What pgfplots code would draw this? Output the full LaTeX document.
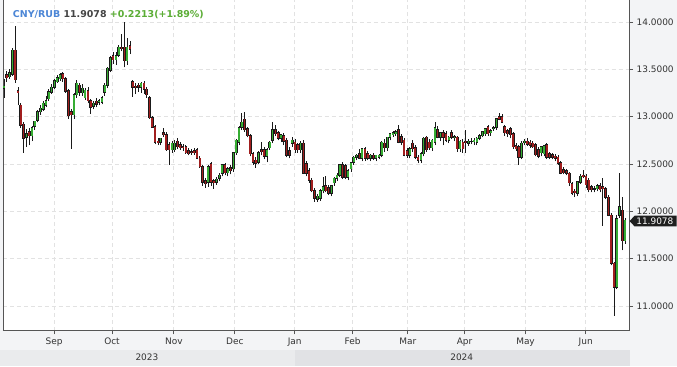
\documentclass[border=0pt]{standalone}
\usepackage{fontspec}
\setmainfont{DejaVu Sans}
\usepackage{pgfplots}
\usepackage{pgfplotstable}
\pgfplotsset{compat=1.18}
\definecolor{canvas}{HTML}{F3F4F6}
\definecolor{band23}{HTML}{EAEBED}
\definecolor{band24}{HTML}{E1E2E5}
\definecolor{gridc}{HTML}{E2E2E2}
\definecolor{axisc}{HTML}{555555}
\definecolor{txt}{HTML}{333333}
\definecolor{upc}{HTML}{36AD33}
\definecolor{dnc}{HTML}{A11E1E}
\definecolor{edge}{HTML}{1A1A1A}
\definecolor{ttlblue}{HTML}{4C86D6}
\definecolor{ttlgreen}{HTML}{5BAD35}
\definecolor{ttlgray}{HTML}{444444}

\pgfplotstableread{
i o h l c
0 13.30 13.40 13.20 13.32
2 13.42 13.50 13.40 13.46
3 13.45 13.72 13.43 13.70
8 12.78 12.87 12.68 12.82
10 12.80 12.90 12.74 12.88
11 12.90 12.95 12.86 12.95
12 12.96 13.07 12.94 13.05
13 13.05 13.12 13.02 13.09
14 13.08 13.16 13.06 13.14
15 13.12 13.22 13.10 13.17
16 13.19 13.29 13.17 13.26
17 13.26 13.34 13.24 13.31
18 13.31 13.40 13.29 13.38
19 13.37 13.44 13.36 13.41
20 13.40 13.46 13.38 13.44
25 13.02 13.25 12.98 13.23
26 13.23 13.39 13.20 13.35
28 13.25 13.34 13.22 13.30
29 13.20 13.30 13.18 13.28
32 13.11 13.17 13.08 13.14
34 13.15 13.19 13.12 13.17
35 13.15 13.22 13.13 13.20
36 13.26 13.35 13.22 13.33
37 13.33 13.52 13.30 13.51
38 13.49 13.64 13.47 13.62
40 13.60 13.68 13.55 13.64
41 13.65 13.76 13.63 13.73
44 13.59 13.83 13.55 13.73
49 13.31 13.37 13.25 13.35
56 12.73 12.77 12.70 12.77
60 12.65 12.74 12.62 12.72
61 12.65 12.75 12.63 12.72
73 12.31 12.49 12.26 12.47
76 12.31 12.36 12.28 12.34
77 12.35 12.40 12.32 12.38
78 12.40 12.50 12.37 12.49
80 12.41 12.47 12.37 12.45
82 12.45 12.63 12.42 12.62
83 12.62 12.76 12.60 12.75
84 12.73 12.90 12.70 12.88
85 12.89 13.04 12.86 12.94
91 12.52 12.64 12.50 12.62
94 12.58 12.67 12.52 12.65
95 12.67 12.74 12.65 12.73
96 12.75 12.94 12.72 12.86
99 12.77 12.82 12.73 12.81
103 12.72 12.78 12.68 12.75
106 12.65 12.74 12.62 12.72
112 12.13 12.18 12.10 12.16
113 12.14 12.24 12.11 12.22
114 12.22 12.36 12.19 12.26
117 12.19 12.28 12.16 12.27
118 12.30 12.36 12.27 12.35
119 12.35 12.40 12.32 12.38
120 12.38 12.50 12.36 12.49
123 12.36 12.45 12.33 12.43
124 12.45 12.52 12.42 12.51
125 12.52 12.58 12.49 12.57
126 12.57 12.61 12.54 12.59
128 12.56 12.67 12.53 12.66
131 12.56 12.61 12.53 12.59
133 12.56 12.60 12.53 12.59
134 12.57 12.61 12.55 12.59
135 12.59 12.74 12.57 12.73
137 12.67 12.79 12.64 12.78
138 12.78 12.83 12.75 12.82
139 12.81 12.85 12.79 12.83
140 12.82 12.86 12.80 12.84
145 12.59 12.68 12.56 12.66
149 12.54 12.63 12.51 12.61
150 12.61 12.78 12.58 12.77
153 12.67 12.76 12.64 12.75
154 12.73 12.94 12.70 12.88
156 12.78 12.84 12.74 12.83
159 12.75 12.80 12.72 12.78
161 12.78 12.81 12.74 12.79
163 12.66 12.75 12.63 12.74
166 12.72 12.76 12.69 12.74
167 12.74 12.77 12.71 12.74
168 12.74 12.77 12.70 12.75
169 12.73 12.79 12.70 12.77
170 12.77 12.82 12.75 12.80
171 12.80 12.85 12.78 12.84
172 12.82 12.88 12.80 12.87
174 12.83 12.87 12.80 12.85
175 12.87 12.90 12.85 12.88
176 12.89 12.99 12.86 12.98
185 12.57 12.74 12.55 12.72
186 12.73 12.76 12.70 12.74
192 12.62 12.69 12.58 12.68
193 12.61 12.70 12.58 12.69
205 12.19 12.32 12.16 12.31
206 12.31 12.39 12.29 12.37
211 12.24 12.27 12.20 12.24
212 12.24 12.29 12.21 12.27
219 11.20 11.96 11.18 11.92
220 11.96 12.40 11.93 12.05
222 11.69 11.93 11.66 11.9078
}\updata

\pgfplotstableread{
i o h l c
1 13.44 13.48 13.37 13.41
4 13.70 13.96 13.36 13.39
5 13.27 13.31 13.12 13.26
6 13.12 13.14 12.88 12.91
7 12.92 12.94 12.62 12.77
9 12.84 12.88 12.70 12.80
21 13.45 13.47 13.37 13.40
22 13.40 13.42 13.25 13.27
23 13.27 13.29 12.98 13.01
24 13.05 13.08 12.66 13.02
27 13.33 13.36 13.22 13.26
30 13.27 13.31 13.14 13.17
31 13.17 13.19 13.03 13.10
33 13.16 13.20 13.10 13.13
39 13.64 13.68 13.56 13.60
42 13.73 13.87 13.69 13.72
43 13.73 14.00 13.52 13.59
45 13.75 13.80 13.66 13.71
46 13.37 13.39 13.21 13.31
47 13.32 13.36 13.24 13.31
48 13.33 13.36 13.26 13.31
50 13.35 13.38 13.24 13.29
51 13.29 13.31 13.20 13.23
52 13.20 13.22 12.98 12.99
53 12.99 13.01 12.88 12.89
54 12.89 12.91 12.71 12.73
55 12.74 12.77 12.70 12.73
57 12.83 12.88 12.79 12.81
58 12.81 12.84 12.64 12.65
59 12.70 12.73 12.49 12.65
62 12.74 12.77 12.66 12.68
63 12.70 12.73 12.65 12.67
64 12.68 12.71 12.64 12.67
65 12.68 12.70 12.61 12.62
66 12.64 12.67 12.59 12.61
67 12.63 12.66 12.60 12.62
68 12.64 12.67 12.60 12.62
69 12.65 12.67 12.55 12.56
70 12.56 12.58 12.46 12.47
71 12.47 12.49 12.27 12.31
72 12.32 12.35 12.25 12.29
74 12.50 12.52 12.27 12.31
75 12.32 12.34 12.24 12.30
79 12.49 12.51 12.38 12.41
81 12.46 12.49 12.39 12.43
86 12.97 13.05 12.84 12.86
87 12.87 12.89 12.78 12.80
88 12.80 12.82 12.58 12.61
89 12.61 12.63 12.49 12.52
90 12.54 12.57 12.46 12.51
92 12.65 12.73 12.59 12.63
93 12.65 12.68 12.55 12.58
97 12.86 12.91 12.80 12.82
98 12.83 12.85 12.75 12.77
100 12.80 12.83 12.70 12.74
101 12.75 12.77 12.57 12.59
102 12.64 12.68 12.56 12.59
104 12.73 12.76 12.62 12.65
105 12.70 12.72 12.62 12.65
107 12.72 12.75 12.40 12.40
108 12.50 12.53 12.37 12.40
109 12.43 12.46 12.30 12.33
110 12.33 12.35 12.20 12.22
111 12.22 12.25 12.10 12.14
115 12.27 12.37 12.20 12.22
116 12.25 12.28 12.17 12.19
121 12.49 12.52 12.34 12.36
122 12.48 12.50 12.34 12.36
127 12.61 12.66 12.55 12.56
129 12.66 12.68 12.53 12.56
130 12.61 12.64 12.54 12.56
132 12.59 12.62 12.54 12.56
136 12.72 12.76 12.63 12.67
141 12.86 12.91 12.72 12.73
142 12.79 12.82 12.70 12.73
143 12.75 12.77 12.58 12.59
144 12.64 12.67 12.56 12.59
146 12.72 12.75 12.63 12.66
147 12.67 12.70 12.55 12.57
148 12.57 12.60 12.51 12.54
151 12.78 12.80 12.63 12.65
152 12.73 12.76 12.65 12.67
155 12.86 12.90 12.77 12.78
157 12.83 12.86 12.70 12.78
158 12.82 12.85 12.73 12.75
160 12.83 12.86 12.76 12.78
162 12.78 12.80 12.63 12.66
164 12.73 12.76 12.62 12.66
165 12.74 12.86 12.62 12.73
173 12.89 12.91 12.80 12.82
177 13.00 13.04 12.96 12.97
178 13.00 13.03 12.93 12.94
179 12.89 12.91 12.80 12.83
180 12.85 12.87 12.79 12.82
181 12.87 12.89 12.77 12.81
182 12.82 12.84 12.66 12.68
183 12.69 12.72 12.64 12.66
184 12.68 12.70 12.49 12.57
187 12.74 12.77 12.69 12.71
188 12.73 12.75 12.67 12.70
189 12.72 12.74 12.67 12.68
190 12.70 12.72 12.58 12.60
191 12.65 12.68 12.56 12.58
194 12.70 12.72 12.55 12.57
195 12.61 12.63 12.55 12.57
196 12.60 12.62 12.55 12.57
197 12.58 12.61 12.53 12.56
198 12.57 12.59 12.49 12.51
199 12.51 12.53 12.39 12.40
200 12.44 12.47 12.39 12.41
201 12.43 12.45 12.38 12.40
202 12.40 12.42 12.27 12.30
203 12.29 12.31 12.17 12.19
204 12.21 12.24 12.15 12.20
207 12.38 12.44 12.35 12.37
208 12.37 12.39 12.25 12.28
209 12.33 12.35 12.20 12.23
210 12.26 12.28 12.20 12.23
213 12.27 12.30 12.20 12.23
214 12.26 12.35 11.85 12.24
215 12.24 12.26 12.13 12.15
216 12.15 12.17 11.95 11.96
217 11.96 11.98 11.43 11.45
218 11.45 11.47 10.90 11.20
221 12.01 12.15 11.59 11.69
}\dndata

\pgfplotsset{
  nomark/.style={only marks, mark=*, mark size=0pt, mark options={draw=none, fill=none}},
  wick/.style={nomark, error bars/.cd, y dir=plus, y explicit, error mark=none,
    error bar style={draw=edge, line width=0.75bp}},
  bodyout/.style={nomark, error bars/.cd, y dir=both, y explicit, error mark=none,
    error bar style={draw=edge, line width=2.7bp, line cap=butt}},
  bodyin/.style={nomark, error bars/.cd, y dir=both, y explicit, error mark=none,
    error bar style={draw=#1, line width=1.6bp, line cap=butt}},
}

\begin{document}
\begin{tikzpicture}[x=1bp,y=1bp]
\fill[canvas] (0,0) rectangle (677,366);
\fill[band23] (0,0) rectangle (295,16);
\fill[band24] (295,0) rectangle (630,16);
\node[font=\fontsize{9}{10}\selectfont, text=txt] at (147,8.5) {2023};
\node[font=\fontsize{9}{10}\selectfont, text=txt] at (462,8.5) {2024};
\begin{axis}[
  at={(3bp,35.3bp)}, anchor=south west,
  scale only axis, width=627bp, height=330.7bp,
  xmin=-0.36, xmax=223.6, ymin=10.738, ymax=14.2268,
  axis background/.style={fill=white},
  axis x line=bottom, axis y line=right,
  axis line style={draw=axisc, line width=0.8bp, -},
  xtick={17.9,38.6,60.7,82.5,103.9,124.6,144.3,164.6,186.4,207.9},
  xticklabels={Sep,Oct,Nov,Dec,Jan,Feb,Mar,Apr,May,Jun},
  ytick={11,11.5,12,12.5,13,13.5,14},
  tick align=outside, major tick length=3.5bp,
  tick style={draw=axisc, line width=0.7bp},
  grid=major,
  major grid style={draw=gridc, line width=0.7bp, dash pattern=on 4bp off 3bp},
  ticklabel style={font=\fontsize{9}{10}\selectfont, text=txt},
  yticklabel style={/pgf/number format/.cd, fixed, fixed zerofill, precision=4},
  /pgf/number format/assume math mode=true,
]
\draw[axisc, line width=0.8bp] (rel axis cs:0,0) -- (rel axis cs:0,1);
\addplot[wick] table[x=i, y=l, y error plus expr=\thisrow{h}-\thisrow{l}] {\updata};
\addplot[wick] table[x=i, y=l, y error plus expr=\thisrow{h}-\thisrow{l}] {\dndata};
\addplot[bodyout] table[x=i, y expr=(\thisrow{o}+\thisrow{c})/2, y error expr=abs(\thisrow{c}-\thisrow{o})/2+0.0058] {\updata};
\addplot[bodyin=upc] table[x=i, y expr=(\thisrow{o}+\thisrow{c})/2, y error expr=abs(\thisrow{c}-\thisrow{o})/2] {\updata};
\addplot[bodyout] table[x=i, y expr=(\thisrow{o}+\thisrow{c})/2, y error expr=abs(\thisrow{c}-\thisrow{o})/2+0.0058] {\dndata};
\addplot[bodyin=dnc] table[x=i, y expr=(\thisrow{o}+\thisrow{c})/2, y error expr=abs(\thisrow{c}-\thisrow{o})/2] {\dndata};
\end{axis}
\fill[black!88] (630,145.2) -- (635,150.6) -- (677,150.6) -- (677,139.8) -- (635,139.8) -- cycle;
\node[anchor=west, inner sep=0pt, text=white, font=\fontsize{9}{10}\selectfont] at (636.5,145.2) {11.9078};
\node[anchor=base west, inner sep=0pt, font=\fontsize{9.5}{11}\selectfont\bfseries] at (12.7,349.3)
  {\textcolor{ttlblue}{CNY/RUB} \textcolor{ttlgray}{11.9078} \textcolor{ttlgreen}{+0.2213(+1.89\%)}};
\end{tikzpicture}
\end{document}
